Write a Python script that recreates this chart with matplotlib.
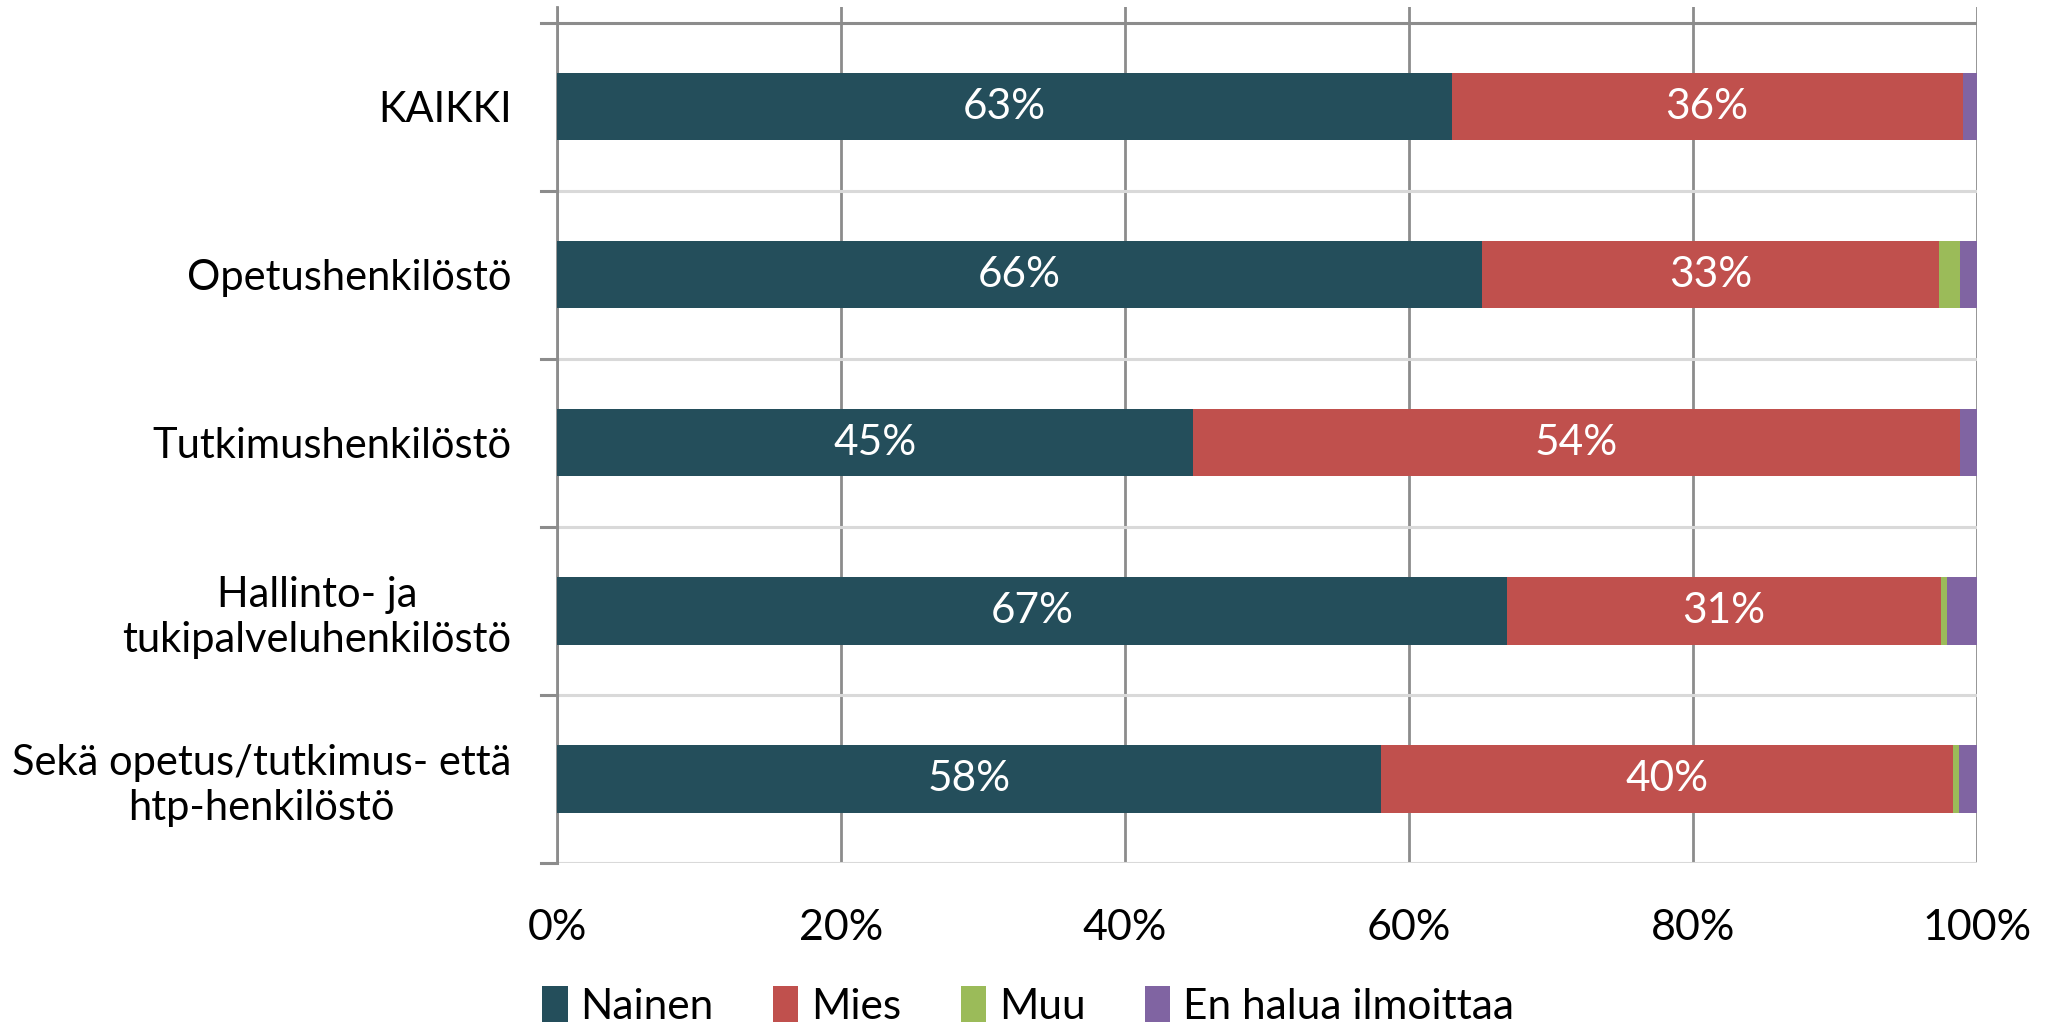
import matplotlib
matplotlib.use("Agg")
import matplotlib.pyplot as plt
import numpy as np

plt.rcParams['font.family'] = ['Lato', 'DejaVu Sans']

categories = ["KAIKKI", "Opetushenkilöstö", "Tutkimushenkilöstö",
              "Hallinto- ja\ntukipalveluhenkilöstö",
              "Sekä opetus/tutkimus- että\nhtp-henkilöstö"]
series_names = ["Nainen", "Mies", "Muu", "En halua ilmoittaa"]
nainen = [63.0, 66.0, 44.8, 66.9, 58.0]
mies = [36.0, 32.6, 54.0, 30.6, 40.3]
muu = [0.0, 1.5, 0.0, 0.4, 0.45]
en_halua = [1.0, 1.2, 1.2, 2.1, 1.25]
xtick_labels = ["0%", "20%", "40%", "60%", "80%", "100%"]
colors = ["#244E5B", "#C0504D", "#9BBB59", "#8064A2"]
labeled = [True, True, False, False]

raw = np.array([nainen, mies, muu, en_halua], dtype=float)
shares = raw / raw.sum(axis=0) * 100

fig = plt.figure(figsize=(20.56, 10.28), dpi=100)
ax = fig.add_axes([557.3/2056, 1-863/1028, 1419.5/2056, (863-7)/1028])

y = np.arange(len(categories))
left = np.zeros(len(categories))
handles = []
for i, name in enumerate(series_names):
    b = ax.barh(y, shares[i], left=left, height=0.4, color=colors[i],
                label=name, zorder=3)
    handles.append(b)
    if labeled[i]:
        for j in range(len(categories)):
            ax.text(left[j] + shares[i][j] / 2, y[j], f"{round(raw[i][j]):.0f}%",
                    ha='center', va='center', color='white', fontsize=30.5, zorder=4)
    left += shares[i]

ax.set_xlim(0, 100)
ax.set_ylim(len(categories) - 0.5, -0.5 - 15.7/168)

ax.set_xticks(np.arange(0, 101, 20))
ax.set_xticklabels(xtick_labels, fontsize=31)
ax.tick_params(axis='x', length=0, pad=33)
ax.xaxis.grid(True, color='#8C8C8C', linewidth=2, zorder=1)

ax.set_yticks(y)
ax.set_yticklabels(categories, fontsize=30, multialignment='center')
ax.tick_params(axis='y', length=0, pad=33)

# category boundary lines and outward ticks
for k in range(len(categories) + 1):
    yb = k - 0.5
    col = '#8C8C8C' if k == 0 else '#D9D9D9'
    ax.axhline(yb, color=col, linewidth=2.2, zorder=2)
    ax.plot([-1.15, 0], [yb, yb], color='#8C8C8C', linewidth=2.2,
            clip_on=False, zorder=2)

for s in ['top', 'right', 'bottom']:
    ax.spines[s].set_visible(False)
ax.spines['left'].set_color('#8C8C8C')
ax.spines['left'].set_linewidth(2)

fig.legend(handles=handles, labels=series_names, loc='center',
           bbox_to_anchor=(0.5, 1 - 1006/1028), ncol=4, frameon=False,
           fontsize=30.5, handlelength=0.6, handleheight=0.9,
           handletextpad=0.3, columnspacing=1.4)

fig.savefig("out.png", dpi=100)
